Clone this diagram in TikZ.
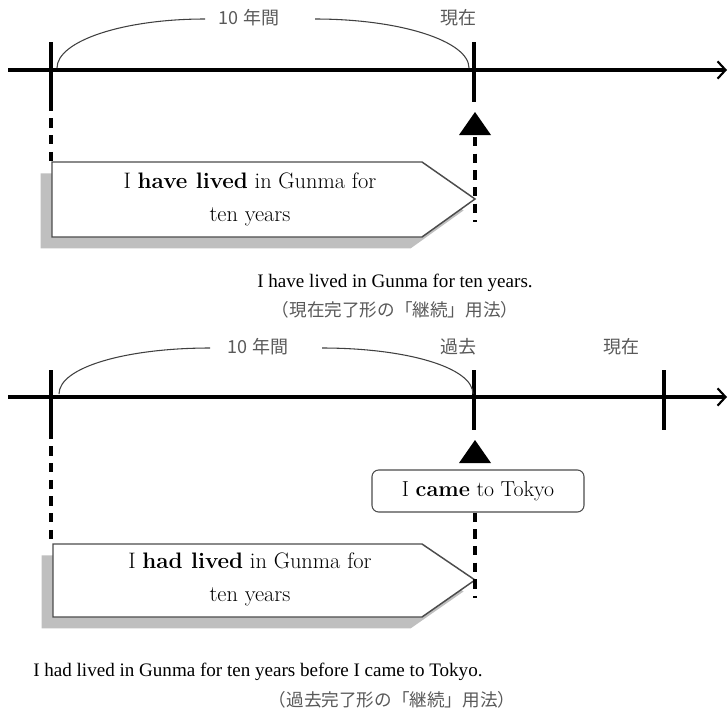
\documentclass[tikz,border=0pt]{standalone}
\usepackage{fontspec}
\usetikzlibrary{shadows,arrows.meta}
\newfontfamily\jpfont{Noto Sans CJK JP}
\newfontfamily\capfont{Liberation Serif}
\definecolor{labelgray}{gray}{0.35}
\definecolor{boxline}{gray}{0.3}
\definecolor{shadowgray}{gray}{0.75}

\begin{document}
\begin{tikzpicture}[x=0.75pt,y=-0.75pt,
    axis/.style={line width=3pt,-{Straight Barb[length=6pt,width=13pt,line width=1.6pt]}},
    tickmark/.style={fill=black,inner sep=0pt,minimum width=3pt,minimum height=45pt},
    guideline/.style={line width=2.3pt,dash pattern=on 7pt off 5.5pt},
    yearspan/.style={line width=0.8pt,black!75},
    nowmark/.style={fill=black},
    arrowbox/.style={draw=boxline,line width=1.1pt,fill=white,
        drop shadow={shadow xshift=-8.6pt,shadow yshift=-8.6pt,fill=shadowgray,opacity=1}},
    boxtext/.style={align=center,font=\fontsize{16.8}{24.75}\selectfont},
    eventbox/.style={draw=boxline,line width=0.8pt,rounded corners=5pt,fill=white,
        minimum width=159pt,minimum height=31.5pt,font=\fontsize{16.3}{18}\selectfont},
    timelabel/.style={text=labelgray,font=\jpfont\fontsize{13.5}{16}\selectfont},
    sentence/.style={inner sep=0pt,font=\capfont\fontsize{14.3}{17}\selectfont},
    usage/.style={inner sep=0pt,text=labelgray,font=\jpfont\fontsize{13.2}{16}\selectfont}]
    \useasboundingbox (0,0) rectangle (728,718);

    % upper timeline (present perfect)
    \draw[axis] (8,70) -- (727,70);
    \node[tickmark] (begin1) at (51,71.5) {};
    \node[tickmark] (now1) at (474,71.5) {};
    \draw[yearspan] (57,68) .. controls (57,41) and (123,19) .. (205,19); %left half of the ten years
    \draw[yearspan] (315,19) .. controls (400,19) and (469,41) .. (469,68);
    \node[timelabel] (years1) at (249,18) {10 年間};
    \node[timelabel] (nowlabel1) at (458,18) {現在};

    \fill[nowmark] (475,112) -- (491,135) -- (459,135) -- cycle;
    \coordinate (mark1) at (475,137);
    \coordinate (end1) at (475,222);
    \coordinate (box1) at (51,162);

    \draw[arrowbox] (52,162) -- (422,162) -- (475,199) -- (422,237) -- (52,237) -- cycle;
    \node[boxtext] (live1) at (250,199.5) {I \textbf{have lived} in Gunma for\\ten years};
    \draw[guideline] (begin1.south) -- (box1);
    \draw[guideline] (mark1) -- (end1); %goes through the tip of the box

    \node[sentence] (sent1) at (395,283) {I have lived in Gunma for ten years.};
    \node[usage] (use1) at (395,310) {（現在完了形の「継続」用法）};

    % lower timeline (past perfect)
    \draw[axis] (8,397) -- (727,397);
    \node[tickmark] (begin2) at (51,399.5) {};
    \node[tickmark] (past2) at (474,399.5) {};
    \node[tickmark] (now2) at (664,399.5) {};
    \draw[yearspan] (59,394) .. controls (59,367) and (127,348) .. (210,348);
    \draw[yearspan] (322,348) .. controls (405,348) and (473,367) .. (473,394);
    \node[timelabel] (years2) at (258,347) {10 年間};
    \node[timelabel] (pastlabel2) at (458,347) {過去};
    \node[timelabel] (nowlabel2) at (621,347) {現在};

    \fill[nowmark] (475,440) -- (491,463) -- (459,463) -- cycle;
    \node[eventbox] (came2) at (478,491) {I \textbf{came} to Tokyo};
    \coordinate (end2) at (475,598);
    \coordinate (box2) at (51,544);

    \draw[arrowbox] (53,544) -- (422,544) -- (475,580) -- (422,617) -- (53,617) -- cycle;
    \node[boxtext] (live2) at (250,579) {I \textbf{had lived} in Gunma for\\ten years};
    \draw[guideline] (begin2.south) -- (box2);
    \draw[guideline] (came2.south -| end2) -- (end2);

    \node[sentence,anchor=west] (sent2) at (33,672) {I had lived in Gunma for ten years before I came to Tokyo.};
    \node[usage] (use2) at (392,700) {（過去完了形の「継続」用法）};
\end{tikzpicture}
\end{document}
